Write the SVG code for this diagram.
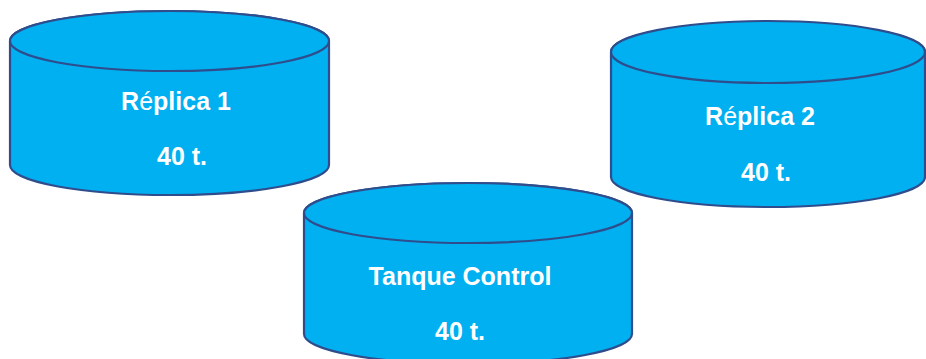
<svg xmlns="http://www.w3.org/2000/svg" width="926" height="359" viewBox="0 0 926 359">
  <style>
    .body { fill: #00B0F0; stroke: #2F4D8C; stroke-width: 2.2; }
    .lbl { fill: #FFFFFF; font-family: "Liberation Sans", Arial, sans-serif; font-weight: bold; font-size: 25px; text-anchor: middle; }
    .acc { font-weight: normal; }
  </style>
  <rect width="926" height="359" fill="#FFFFFF"/>

  <!-- Tank: Réplica 1 -->
  <g id="replica1">
    <path class="body" d="M10,41 L10,165 A159.5,30 0 0 0 329,165 L329,41 A159.5,30 0 0 0 10,41 Z"/>
    <ellipse class="body" cx="169.5" cy="41" rx="159.5" ry="30"/>
    <text class="lbl" x="176" y="110">R<tspan class="acc">é</tspan>plica 1</text>
    <text class="lbl" x="182" y="165">40 t.</text>
  </g>

  <!-- Tank: Réplica 2 -->
  <g id="replica2">
    <path class="body" d="M611,52 L611,177 A157,30 0 0 0 925,177 L925,52 A157,30 0 0 0 611,52 Z"/>
    <ellipse class="body" cx="768" cy="52" rx="157" ry="31"/>
    <text class="lbl" x="760" y="125">R<tspan class="acc">é</tspan>plica 2</text>
    <text class="lbl" x="766" y="181">40 t.</text>
  </g>

  <!-- Tank: Tanque Control -->
  <g id="control">
    <path class="body" d="M304,213 L304,334 A164,30 0 0 0 632,334 L632,213 A164,30 0 0 0 304,213 Z"/>
    <ellipse class="body" cx="468" cy="213" rx="164" ry="30"/>
    <text class="lbl" x="460" y="285">Tanque Control</text>
    <text class="lbl" x="460" y="340">40 t.</text>
  </g>

  <g id="connectors"/>
</svg>
